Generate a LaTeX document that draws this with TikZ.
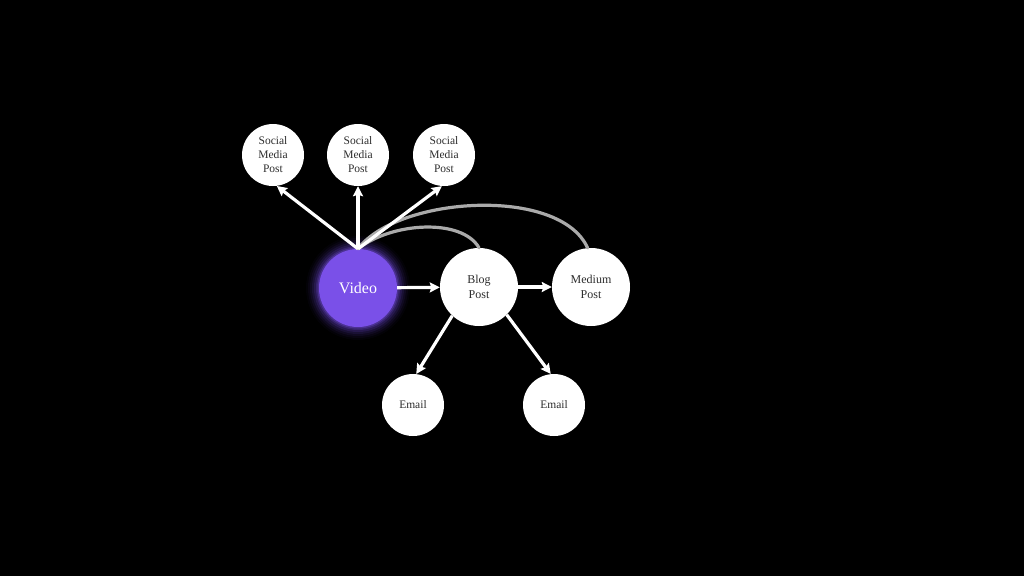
\documentclass[tikz,border=0pt]{standalone}
\usepackage{fontspec}
\setmainfont{Liberation Serif}
\usetikzlibrary{arrows.meta}
\definecolor{vidpurple}{RGB}{122,80,232}
\definecolor{txtgray}{RGB}{45,45,45}
\definecolor{arcgray}{RGB}{170,170,170}
\begin{document}
\begin{tikzpicture}[x=1pt,y=-1pt,
  small/.style={circle,fill=white,minimum size=62pt,inner sep=0pt,align=center,
    text=txtgray,font=\fontsize{11.5}{14}\selectfont},
  big/.style={circle,fill=white,minimum size=78pt,inner sep=0pt,align=center,
    text=txtgray,font=\fontsize{12}{14.5}\selectfont},
  arr/.style={white,line width=3.2pt,-{Stealth[length=10pt,width=10pt,inset=1.5pt]}},
  arcline/.style={arcgray,line width=3.2pt,line cap=round}]
\fill[black] (0,0) rectangle (1024,576);
\useasboundingbox (0,0) rectangle (1024,576);
% glow
\foreach \r/\o in {52/0.03,50/0.05,48/0.07,46/0.10,44/0.14,42/0.2,40.5/0.3}{
  \fill[vidpurple,opacity=\o] (358,288) circle (\r);
}
\node[circle,fill=vidpurple,minimum size=78pt,inner sep=0pt,text=white,
  font=\fontsize{16}{19}\selectfont] (video) at (358,288) {Video};
\node[small] (s1) at (273,155) {Social\\Media\\Post};
\node[small] (s2) at (358,155) {Social\\Media\\Post};
\node[small] (s3) at (444,155) {Social\\Media\\Post};
\node[big] (blog) at (479,287) {Blog\\Post};
\node[big] (medium) at (591,287) {Medium\\Post};
\node[small] (e1) at (413,405) {Email};
\node[small] (e2) at (554,405) {Email};
% arcs
\draw[arcline] (video.north) .. controls (392,222) and (462,218) .. (blog.north);
\draw[arcline] (video.north) .. controls (398,196) and (560,186) .. (medium.95);
% arrows
\draw[arr] (video.north) -- (s1.-83);
\draw[arr] (video.north) -- (s2.south);
\draw[arr] (video.north) -- (s3.-94);
\draw[arr] (video) -- (blog);
\draw[arr] (blog) -- (medium);
\draw[arr] (blog.-133) -- (e1.84);
\draw[arr] (blog.-45) -- (e2.96);
\end{tikzpicture}
\end{document}
